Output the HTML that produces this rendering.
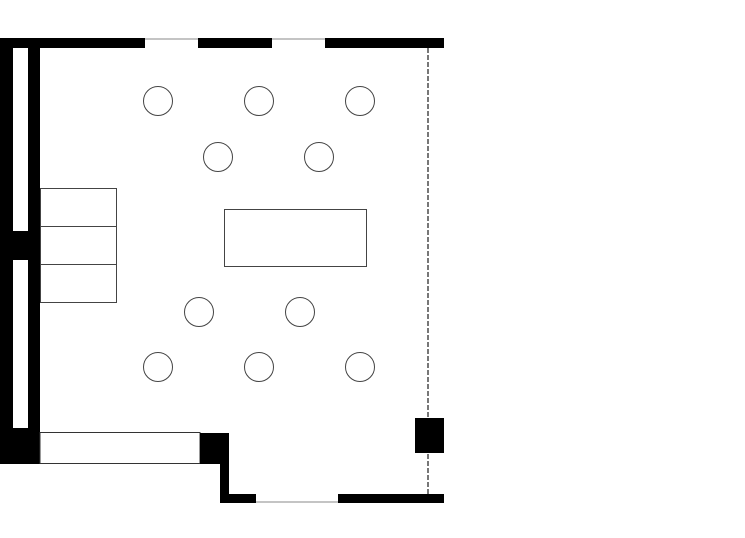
<!DOCTYPE html>
<html><head><style>body{margin:0;background:#fff}</style></head><body>
<svg width="745" height="533" xmlns="http://www.w3.org/2000/svg">
<rect width="745" height="533" fill="#fff"/>
<line x1="145" y1="39" x2="325" y2="39" stroke="#888" stroke-width="1"/>
<rect x="0" y="38" width="145" height="10" fill="#000"/>
<rect x="198" y="38" width="74" height="10" fill="#000"/>
<rect x="325" y="38" width="119" height="10" fill="#000"/>
<rect x="0" y="38" width="13" height="426" fill="#000"/>
<rect x="28" y="38" width="12" height="426" fill="#000"/>
<rect x="13" y="231" width="15" height="29" fill="#000"/>
<rect x="13" y="428" width="15" height="36" fill="#000"/>
<rect x="40" y="432.5" width="160" height="31" fill="none" stroke="#333" stroke-width="1"/>
<rect x="200" y="433" width="29" height="31" fill="#000"/>
<rect x="220" y="464" width="9" height="39" fill="#000"/>
<line x1="256" y1="502" x2="338" y2="502" stroke="#888" stroke-width="1"/>
<rect x="220" y="494" width="36" height="9" fill="#000"/>
<rect x="338" y="494" width="106" height="9" fill="#000"/>
<line x1="428" y1="48" x2="428" y2="494" stroke="#777" stroke-width="2" stroke-dasharray="5,2"/>
<rect x="415" y="418" width="29" height="35" fill="#000"/>
<g fill="none" stroke="#444" stroke-width="1">
<rect x="40.5" y="188.5" width="76" height="38"/>
<rect x="40.5" y="226.5" width="76" height="38"/>
<rect x="40.5" y="264.5" width="76" height="38"/>
<rect x="224.5" y="209.5" width="142" height="57"/>
<circle cx="158" cy="101" r="14.5"/><circle cx="259" cy="101" r="14.5"/><circle cx="360" cy="101" r="14.5"/>
<circle cx="218" cy="157" r="14.5"/><circle cx="319" cy="157" r="14.5"/>
<circle cx="199" cy="312" r="14.5"/><circle cx="300" cy="312" r="14.5"/>
<circle cx="158" cy="367" r="14.5"/><circle cx="259" cy="367" r="14.5"/><circle cx="360" cy="367" r="14.5"/>
</g>
</svg>
</body></html>
